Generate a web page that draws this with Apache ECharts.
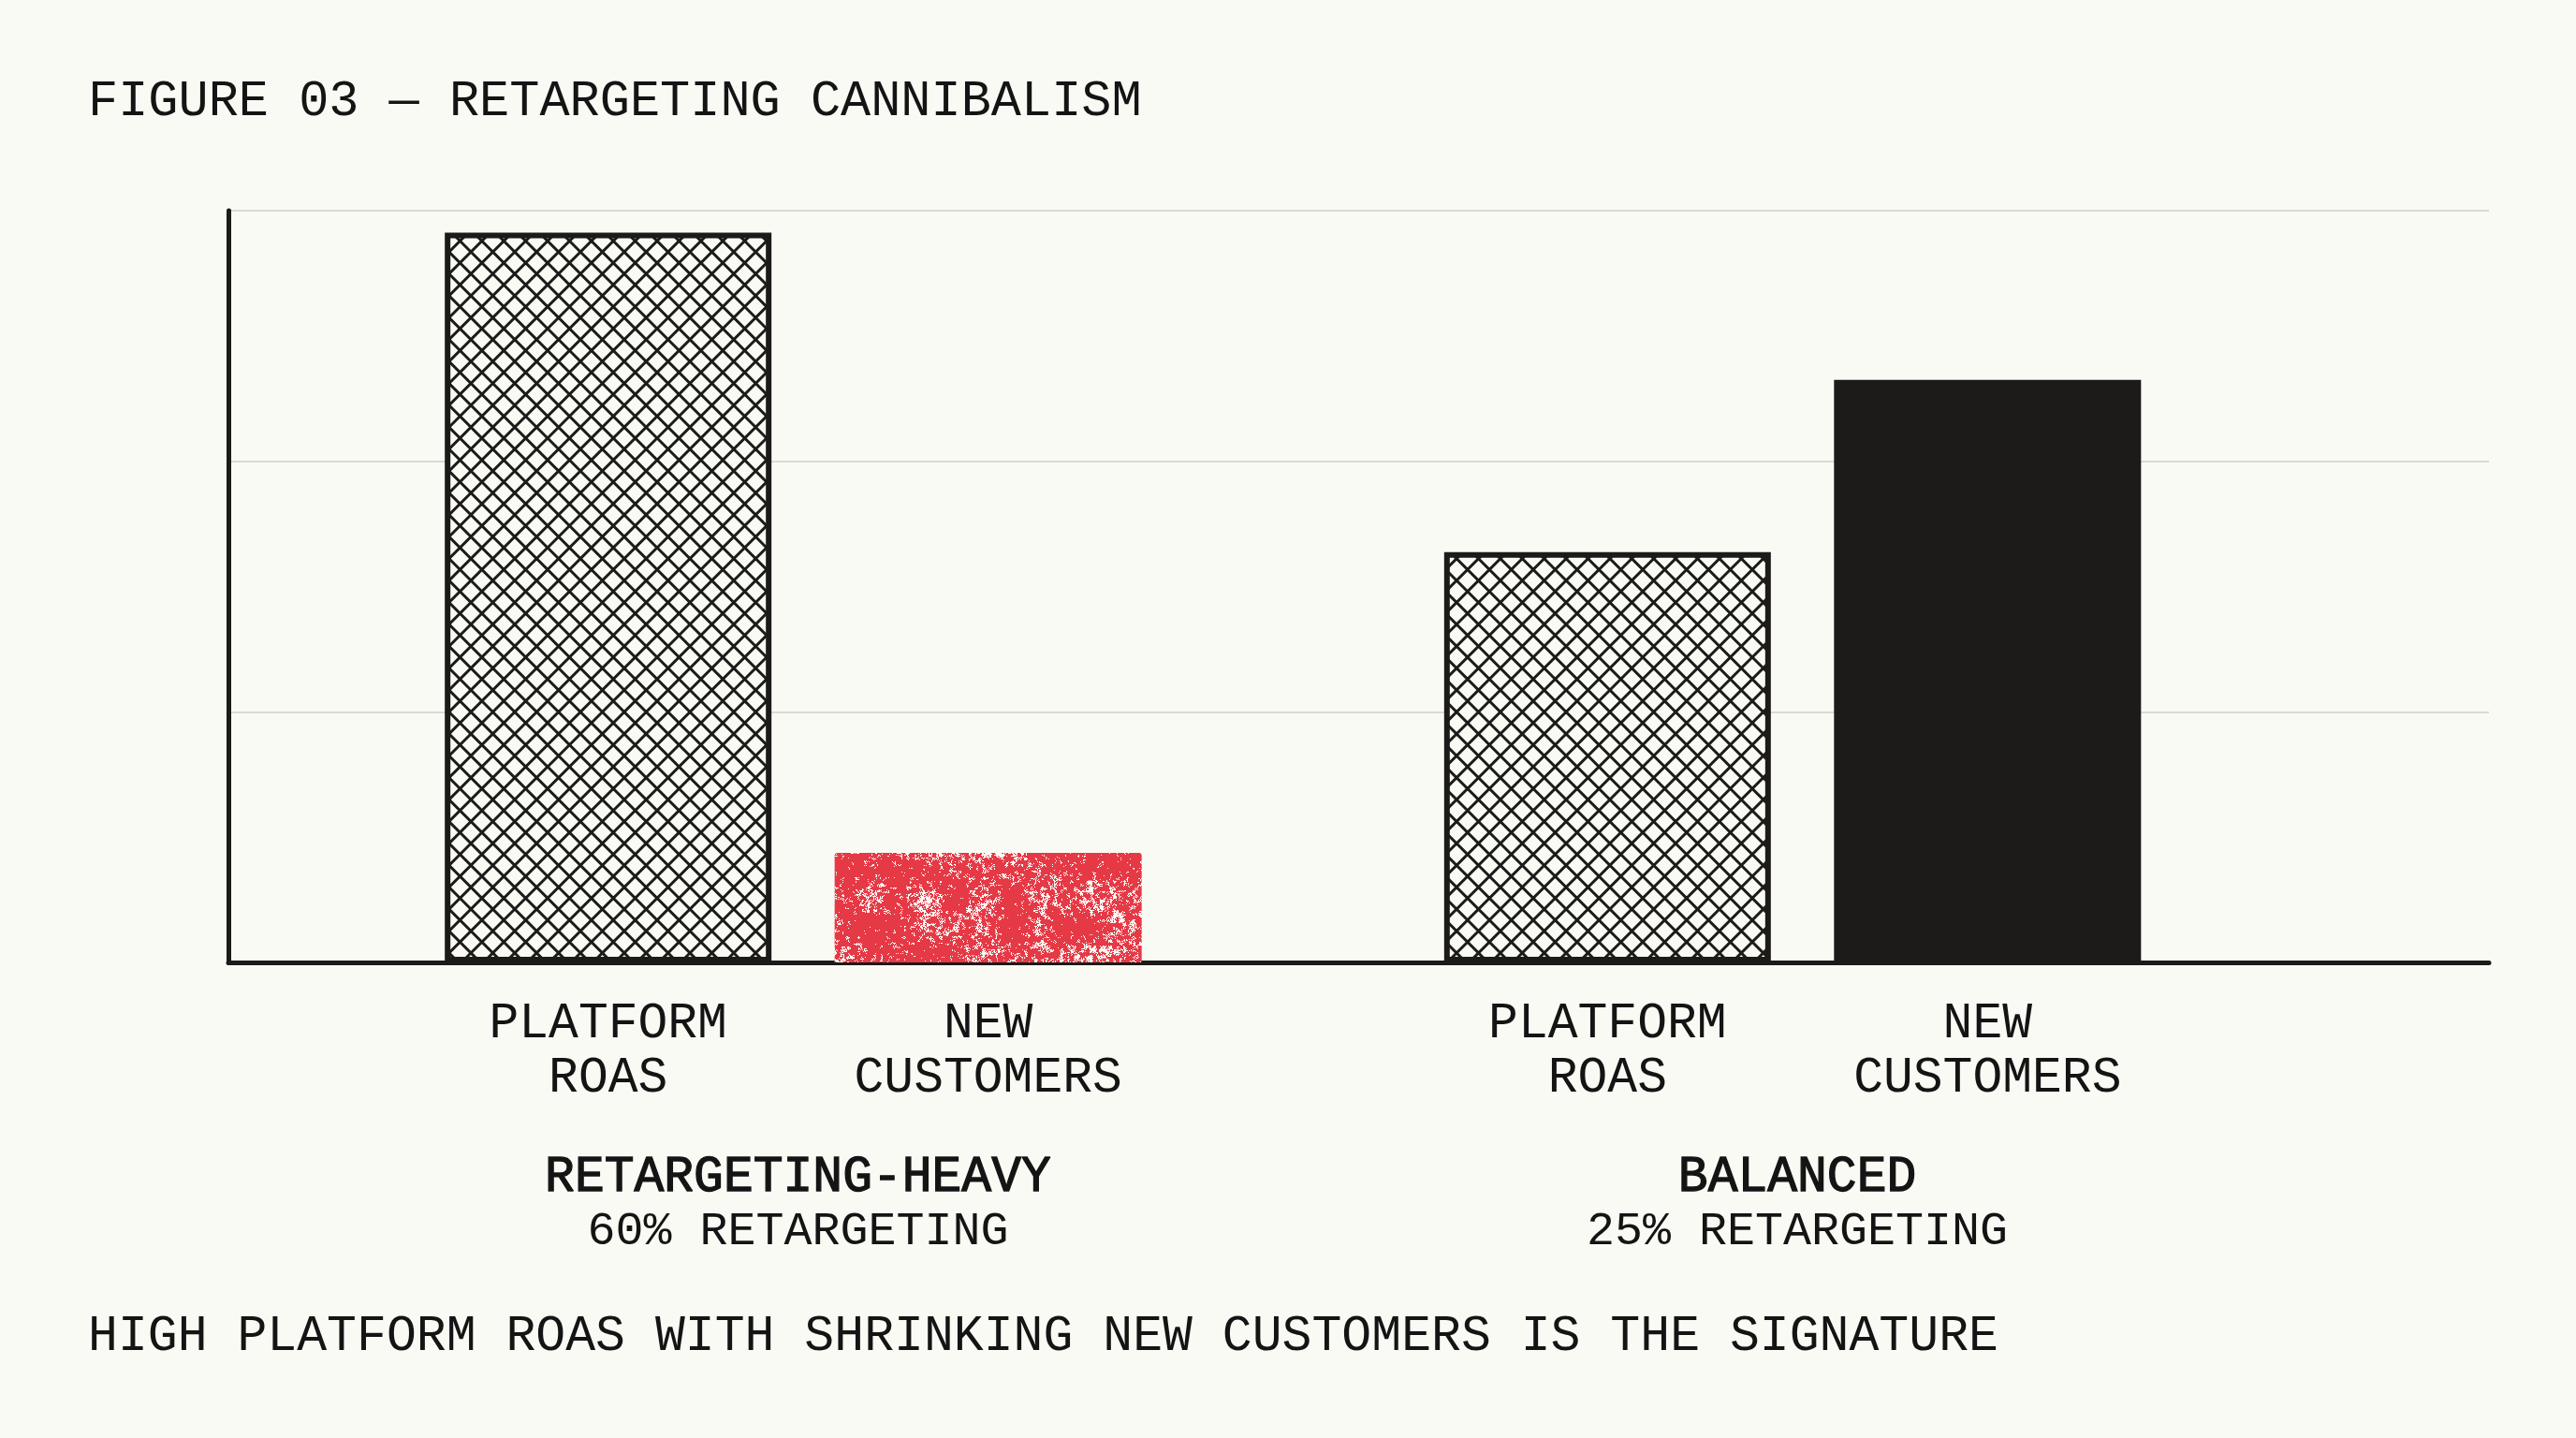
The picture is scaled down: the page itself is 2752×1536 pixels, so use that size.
<!DOCTYPE html>
<html>
<head>
<meta charset="utf-8">
<script src="https://cdn.jsdelivr.net/npm/echarts@6/dist/echarts.min.js"></script>
<style>
  html, body { margin: 0; padding: 0; background: #fafaf5; }
  #chart { width: 2752px; height: 1536px; }
</style>
</head>
<body>
<div id="chart"></div>
<script>
// ---- data ----
const groups = ['RETARGETING-HEAVY', 'BALANCED'];
const groupNotes = ['60% RETARGETING', '25% RETARGETING'];
const metrics = ['PLATFORM\nROAS', 'NEW\nCUSTOMERS'];
const groupIndex = [0, 1];
const platformRoas = [116.5, 65.5];   // indexed scale, 0-120
const newCustomers = [17.5, 93];
const yTicks = [0, 40, 80, 120];
const titleText = 'FIGURE 03 — RETARGETING CANNIBALISM';
const captionText = 'HIGH PLATFORM ROAS WITH SHRINKING NEW CUSTOMERS IS THE SIGNATURE';

// ---- style ----
const BG = '#fafaf5';
const INK = '#1c1b19';
const TEXT = '#141414';
const RED = '#e63946';
const GRIDC = '#dcd9d1';
const FONT = "'Liberation Mono', 'DejaVu Sans Mono', monospace";

function hash(x, y) {
  let h = (Math.imul(x, 374761393) + Math.imul(y, 668265263)) | 0;
  h = Math.imul(h ^ (h >>> 13), 1274126177);
  h = h ^ (h >>> 16);
  return (h >>> 0) / 4294967295;
}
function vnoise(x, y) {
  const xi = Math.floor(x), yi = Math.floor(y);
  const xf = x - xi, yf = y - yi;
  const s = t => t * t * (3 - 2 * t);
  const a = hash(xi, yi), b = hash(xi + 1, yi), c = hash(xi, yi + 1), d = hash(xi + 1, yi + 1);
  const u = s(xf), v = s(yf);
  return a + (b - a) * u + (c - a) * v + (a - b - c + d) * u * v;
}

function makeHatch() {
  const size = 117, step = 23.4;
  const cv = document.createElement('canvas');
  cv.width = size; cv.height = size;
  const ctx = cv.getContext('2d');
  ctx.fillStyle = BG; ctx.fillRect(0, 0, size, size);
  ctx.strokeStyle = INK; ctx.lineWidth = 3;
  ctx.beginPath();
  for (let k = -2; k <= 12; k++) {
    const c0 = k * step;
    ctx.moveTo(c0 + 20, -20); ctx.lineTo(c0 - size - 20, size + 20);
    const d = k * step - size;
    ctx.moveTo(d - 20, -20); ctx.lineTo(d + size + 20, size + 20);
  }
  ctx.stroke();
  return cv;
}

function makeSpeckle() {
  const W = 1240, H = 1040;
  const cv = document.createElement('canvas');
  cv.width = W; cv.height = H;
  const ctx = cv.getContext('2d');
  const img = ctx.createImageData(W, H);
  const px = img.data;
  for (let y = 0; y < H; y++) {
    for (let x = 0; x < W; x++) {
      const n = 0.3 * vnoise(x / 30, y / 30) + 0.4 * vnoise(x / 3.5, y / 3.5) + 0.3 * hash(x + 11, y + 7);
      const o = (y * W + x) * 4;
      if (n > 0.64) { px[o] = 250; px[o + 1] = 250; px[o + 2] = 245; }
      else { px[o] = 230; px[o + 1] = 57; px[o + 2] = 70; }
      px[o + 3] = 255;
    }
  }
  ctx.putImageData(img, 0, 0);
  return cv;
}

const hatchFill = { image: makeHatch(), repeat: 'repeat' };
const speckleFill = { image: makeSpeckle(), repeat: 'repeat' };

const hatchStyle = { color: hatchFill, borderColor: INK, borderWidth: 6 };
const newStyles = [
  { color: speckleFill, borderRadius: [3, 3, 0, 0] },
  { color: INK }
];

const labelBase = {
  show: true,
  position: 'bottom',
  distance: 37,
  formatter: '{a}',
  color: TEXT,
  fontFamily: FONT,
  fontSize: 53,
  lineHeight: 58,
  align: 'center'
};

const chart = echarts.init(document.getElementById('chart'), null, { renderer: 'canvas' });
chart.setOption({
  animation: false,
  backgroundColor: BG,
  textStyle: { fontFamily: FONT },
  title: [
    { text: titleText, left: 89, top: 77,
      textStyle: { fontFamily: FONT, fontSize: 53.6, fontWeight: 'normal', color: TEXT } },
    { text: captionText, left: 89, top: 1396,
      textStyle: { fontFamily: FONT, fontSize: 53.15, fontWeight: 'normal', color: TEXT } }
  ],
  grid: { left: 244, right: 93, top: 225, bottom: 508, containLabel: false, outerBoundsMode: 'none' },
  xAxis: {
    type: 'value',
    min: -0.5652,
    max: 1.6968,
    axisLine: { show: true, onZero: true, lineStyle: { color: INK, width: 5 } },
    axisTick: { show: false },
    splitLine: { show: false },
    axisLabel: {
      show: true,
      customValues: groupIndex,
      margin: 201,
      padding: [0, 0, 0, 10],
      formatter: function (v) {
        const i = Math.round(v);
        return '{b|' + groups[i] + '}\n{s|' + groupNotes[i] + '}';
      },
      rich: {
        b: { fontFamily: FONT, fontSize: 53, fontWeight: 'normal', lineHeight: 58, color: TEXT,
             textBorderColor: TEXT, textBorderWidth: 1.3, align: 'center' },
        s: { fontFamily: FONT, fontSize: 50, fontWeight: 'normal', lineHeight: 58, color: TEXT, align: 'center' }
      }
    }
  },
  yAxis: {
    type: 'value',
    min: yTicks[0],
    max: yTicks[yTicks.length - 1],
    interval: yTicks[1] - yTicks[0],
    axisLine: { show: true, onZero: false, lineStyle: { color: INK, width: 5 } },
    axisTick: { show: false },
    axisLabel: { show: false },
    splitLine: { show: true, lineStyle: { color: GRIDC, width: 2 } }
  },
  series: [
    {
      name: metrics[0],
      type: 'bar',
      barWidth: 349,
      barGap: '19.34%',
      data: groupIndex.map((g, i) => ({ value: [g, platformRoas[i]], itemStyle: hatchStyle })),
      label: labelBase
    },
    {
      name: metrics[1],
      type: 'bar',
      barWidth: 328,
      barGap: '19.34%',
      data: groupIndex.map((g, i) => ({ value: [g, newCustomers[i]], itemStyle: newStyles[i] })),
      label: labelBase
    }
  ]
});
</script>
</body>
</html>
